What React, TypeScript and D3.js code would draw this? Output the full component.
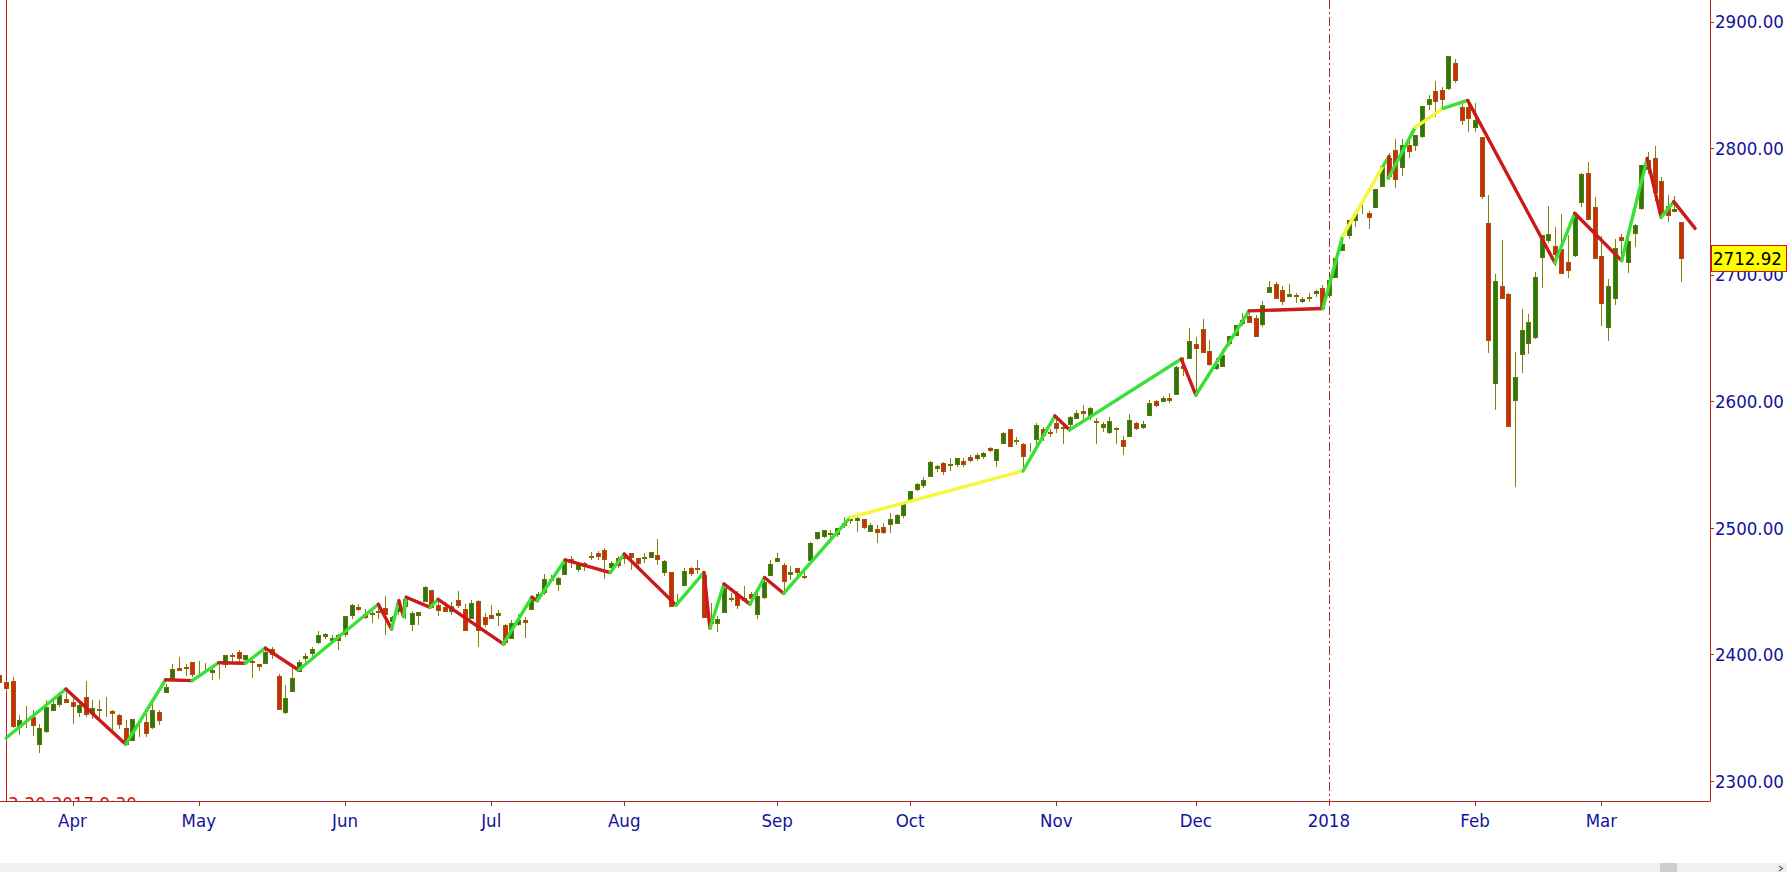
import React, { useEffect, useRef } from 'react';
import * as d3 from 'd3';

// trading days shown, month by month (the feed also has a bar on 2018-01-15)
const monthKeys = ['2017-03', '2017-04', '2017-05', '2017-06', '2017-07', '2017-08', '2017-09',
  '2017-10', '2017-11', '2017-12', '2018-01', '2018-02', '2018-03'];
const monthDays = [
  [17, 20, 21, 22, 23, 24, 27, 28, 29, 30, 31],
  [3, 4, 5, 6, 7, 10, 11, 12, 13, 17, 18, 19, 20, 21, 24, 25, 26, 27, 28],
  [1, 2, 3, 4, 5, 8, 9, 10, 11, 12, 15, 16, 17, 18, 19, 22, 23, 24, 25, 26, 30, 31],
  [1, 2, 5, 6, 7, 8, 9, 12, 13, 14, 15, 16, 19, 20, 21, 22, 23, 26, 27, 28, 29, 30],
  [3, 5, 6, 7, 10, 11, 12, 13, 14, 17, 18, 19, 20, 21, 24, 25, 26, 27, 28, 31],
  [1, 2, 3, 4, 7, 8, 9, 10, 11, 14, 15, 16, 17, 18, 21, 22, 23, 24, 25, 28, 29, 30, 31],
  [1, 5, 6, 7, 8, 11, 12, 13, 14, 15, 18, 19, 20, 21, 22, 25, 26, 27, 28, 29],
  [2, 3, 4, 5, 6, 9, 10, 11, 12, 13, 16, 17, 18, 19, 20, 23, 24, 25, 26, 27, 30, 31],
  [1, 2, 3, 6, 7, 8, 9, 10, 13, 14, 15, 16, 17, 20, 21, 22, 24, 27, 28, 29, 30],
  [1, 4, 5, 6, 7, 8, 11, 12, 13, 14, 15, 18, 19, 20, 21, 22, 26, 27, 28, 29],
  [2, 3, 4, 5, 8, 9, 10, 11, 12, 15, 16, 17, 18, 19, 22, 23, 24, 25, 26, 29, 30, 31],
  [1, 2, 5, 6, 7, 8, 9, 12, 13, 14, 15, 16, 20, 21, 22, 23, 26, 27, 28],
  [1, 2, 5, 6, 7, 8, 9, 12, 13, 14, 15, 16, 19],
];
const monthLabels = ['Apr', 'May', 'Jun', 'Jul', 'Aug', 'Sep', 'Oct', 'Nov', 'Dec', '2018', 'Feb', 'Mar'];

const opens = [
  2383.7, 2378.2, 2379.3, 2343.0, 2346.0, 2350.4, 2329.1, 2339.8, 2356.5, 2361.3, 2364.8,
  2362.3, 2354.8, 2366.6, 2353.8, 2356.6, 2357.2, 2355.0, 2352.1, 2342.0, 2332.6, 2342.5, 2346.8, 2342.7, 2354.7, 2370.3, 2381.5, 2389.0, 2389.7, 2393.7,
  2388.5, 2391.1, 2386.5, 2389.8, 2392.4, 2399.9, 2401.6, 2396.8, 2394.8, 2392.4, 2394.0, 2404.6, 2383.0, 2354.7, 2371.4, 2387.2, 2397.0, 2401.4, 2409.5, 2414.5, 2411.7, 2415.6,
  2415.7, 2431.3, 2437.8, 2431.9, 2432.0, 2434.3, 2436.4, 2425.9, 2434.2, 2443.8, 2424.1, 2431.2, 2442.6, 2450.7, 2439.3, 2437.4, 2434.7, 2443.3, 2436.3, 2428.7, 2442.4, 2429.2,
  2431.4, 2430.8, 2423.4, 2413.5, 2424.5, 2427.4, 2435.8, 2445.0, 2449.2, 2459.5, 2455.9, 2463.9, 2475.6, 2467.4, 2472.0, 2477.9, 2480.0, 2482.8, 2469.1, 2475.9,
  2477.1, 2480.4, 2476.0, 2476.1, 2477.1, 2478.4, 2465.4, 2465.4, 2441.0, 2455.0, 2468.7, 2468.6, 2463.0, 2427.6, 2425.5, 2433.8, 2444.9, 2447.9, 2444.7, 2447.4, 2431.9, 2446.1, 2462.7,
  2474.4, 2470.4, 2463.8, 2468.1, 2462.3, 2474.5, 2491.9, 2493.9, 2494.6, 2495.7, 2502.5, 2506.3, 2506.8, 2507.2, 2497.3, 2499.4, 2501.0, 2503.3, 2503.4, 2510.0,
  2521.2, 2530.3, 2533.5, 2540.9, 2547.4, 2551.4, 2550.0, 2550.6, 2552.9, 2555.7, 2555.6, 2557.2, 2562.9, 2553.4, 2567.6, 2578.1, 2568.7, 2566.5, 2560.1, 2570.3, 2577.8, 2576.0,
  2583.2, 2579.5, 2581.9, 2587.5, 2592.1, 2588.7, 2584.0, 2580.2, 2576.5, 2577.8, 2569.5, 2573.0, 2582.9, 2579.5, 2589.2, 2600.3, 2600.4, 2602.7, 2605.9, 2627.8, 2633.9,
  2645.1, 2657.2, 2639.8, 2626.2, 2628.4, 2646.2, 2652.2, 2661.7, 2667.6, 2665.9, 2660.6, 2685.9, 2692.7, 2688.2, 2683.0, 2684.2, 2679.1, 2682.1, 2686.1, 2689.2,
  2683.7, 2697.9, 2719.3, 2731.3, 2742.7, 2751.2, 2749.0, 2753.0, 2770.2, 2792.0, 2799.0, 2785.0, 2802.4, 2802.6, 2809.2, 2835.1, 2845.4, 2846.2, 2847.5, 2867.2, 2832.7, 2832.4,
  2816.5, 2808.9, 2741.1, 2614.8, 2691.0, 2685.0, 2601.8, 2636.8, 2646.3, 2651.2, 2713.5, 2727.1, 2723.0, 2720.5, 2710.4, 2715.8, 2757.4, 2780.5, 2753.8,
  2715.2, 2658.9, 2681.1, 2730.2, 2710.2, 2732.8, 2752.9, 2790.5, 2792.3, 2774.1, 2754.3, 2750.6, 2741.4,
];
const highs = [
  2385.7, 2379.0, 2381.9, 2351.8, 2358.9, 2356.2, 2344.9, 2363.8, 2363.4, 2370.4, 2370.4,
  2365.9, 2360.5, 2378.8, 2364.2, 2363.8, 2366.4, 2356.0, 2352.7, 2348.3, 2349.1, 2348.4, 2352.6, 2361.4, 2356.2, 2377.0, 2392.5, 2398.2, 2392.1, 2393.7,
  2394.5, 2392.9, 2389.8, 2391.4, 2399.3, 2401.4, 2403.9, 2399.7, 2395.7, 2392.4, 2404.1, 2405.8, 2384.9, 2375.7, 2389.1, 2395.5, 2400.9, 2405.6, 2418.7, 2416.7, 2415.3, 2416.0,
  2430.1, 2440.2, 2439.6, 2436.2, 2435.3, 2439.3, 2446.2, 2430.4, 2441.5, 2443.8, 2434.0, 2433.2, 2453.8, 2450.7, 2442.2, 2441.6, 2441.4, 2450.4, 2440.2, 2443.0, 2442.7, 2432.7,
  2439.2, 2434.9, 2424.3, 2426.9, 2432.0, 2429.3, 2445.8, 2449.3, 2463.5, 2462.8, 2460.9, 2473.8, 2477.6, 2472.5, 2473.1, 2481.2, 2481.7, 2484.0, 2473.5, 2478.0,
  2478.5, 2480.4, 2476.0, 2480.0, 2481.0, 2490.9, 2474.4, 2465.4, 2448.1, 2468.2, 2468.9, 2474.9, 2465.0, 2440.3, 2430.6, 2454.8, 2448.9, 2450.4, 2454.0, 2449.1, 2449.2, 2460.3, 2475.0,
  2480.4, 2472.0, 2469.6, 2468.6, 2467.1, 2489.0, 2496.8, 2498.4, 2498.4, 2500.2, 2508.3, 2507.8, 2508.9, 2507.2, 2503.5, 2502.5, 2503.5, 2511.8, 2510.8, 2519.4,
  2529.2, 2535.1, 2540.5, 2552.5, 2549.4, 2551.8, 2555.2, 2555.2, 2555.3, 2557.7, 2559.5, 2559.7, 2564.1, 2562.4, 2575.4, 2578.3, 2572.2, 2567.4, 2567.1, 2583.0, 2580.0, 2578.3,
  2588.4, 2581.1, 2588.4, 2593.4, 2597.0, 2595.5, 2586.5, 2583.8, 2587.7, 2579.7, 2572.8, 2590.1, 2584.0, 2584.6, 2601.2, 2600.9, 2604.2, 2606.4, 2627.7, 2634.9, 2657.7,
  2650.6, 2665.2, 2648.7, 2634.4, 2641.0, 2651.7, 2660.3, 2669.7, 2671.9, 2668.1, 2679.6, 2695.0, 2694.4, 2691.0, 2692.6, 2685.4, 2682.7, 2685.6, 2687.7, 2692.1,
  2695.9, 2714.4, 2729.3, 2743.5, 2748.5, 2759.1, 2750.8, 2767.6, 2787.9, 2796.0, 2807.5, 2807.0, 2805.8, 2810.3, 2833.0, 2842.2, 2853.0, 2848.6, 2872.9, 2870.6, 2837.8, 2839.3,
  2836.0, 2808.9, 2763.4, 2701.0, 2727.7, 2685.3, 2638.7, 2672.6, 2668.8, 2702.1, 2731.5, 2754.4, 2737.6, 2747.8, 2731.3, 2747.8, 2780.6, 2789.2, 2761.5,
  2730.9, 2696.3, 2728.1, 2732.1, 2730.6, 2740.5, 2786.6, 2797.0, 2801.9, 2777.1, 2763.0, 2761.9, 2741.4,
];
const lows = [
  2377.6, 2369.7, 2341.9, 2336.5, 2342.1, 2335.7, 2322.3, 2337.6, 2356.2, 2358.6, 2362.6,
  2344.7, 2350.7, 2350.5, 2348.9, 2349.6, 2350.7, 2337.3, 2341.2, 2329.0, 2332.5, 2334.5, 2335.0, 2340.9, 2344.5, 2369.2, 2381.2, 2386.8, 2382.7, 2382.4,
  2382.4, 2385.8, 2379.8, 2380.4, 2389.4, 2393.0, 2392.4, 2392.8, 2381.7, 2387.2, 2393.9, 2396.1, 2356.2, 2352.7, 2370.4, 2386.9, 2393.9, 2398.0, 2408.0, 2412.2, 2409.4, 2403.6,
  2413.5, 2427.7, 2434.3, 2428.1, 2424.8, 2427.9, 2415.7, 2420.0, 2431.3, 2428.3, 2418.5, 2422.9, 2441.8, 2436.6, 2430.7, 2433.3, 2431.1, 2437.0, 2419.4, 2428.0, 2405.7, 2421.7,
  2428.7, 2422.1, 2407.7, 2413.5, 2422.3, 2412.8, 2435.8, 2441.7, 2446.7, 2457.2, 2450.3, 2463.9, 2468.4, 2465.1, 2466.3, 2474.9, 2474.9, 2459.9, 2464.7, 2468.5,
  2471.1, 2466.5, 2468.9, 2472.1, 2475.9, 2470.3, 2462.1, 2437.8, 2437.9, 2455.0, 2461.6, 2463.9, 2430.0, 2420.7, 2417.4, 2433.7, 2441.4, 2436.2, 2442.2, 2439.0, 2428.2, 2443.8, 2462.7,
  2473.9, 2446.6, 2459.2, 2460.3, 2459.4, 2474.5, 2490.4, 2492.1, 2491.4, 2493.2, 2499.9, 2503.2, 2496.7, 2499.0, 2496.5, 2488.0, 2495.1, 2495.9, 2502.9, 2508.0,
  2520.4, 2528.9, 2531.8, 2540.0, 2543.8, 2541.6, 2544.9, 2548.0, 2548.3, 2552.1, 2552.6, 2554.7, 2559.7, 2547.9, 2567.6, 2564.3, 2565.6, 2544.0, 2559.8, 2565.9, 2568.3, 2572.2,
  2574.9, 2566.2, 2576.8, 2585.7, 2584.4, 2585.0, 2566.3, 2575.6, 2574.5, 2566.6, 2557.5, 2573.0, 2577.6, 2578.2, 2589.2, 2595.2, 2600.4, 2598.9, 2605.4, 2620.3, 2633.9,
  2605.5, 2639.0, 2627.7, 2624.8, 2628.4, 2644.1, 2651.5, 2659.8, 2662.9, 2652.0, 2659.1, 2685.9, 2680.7, 2676.1, 2682.4, 2678.1, 2678.0, 2678.9, 2682.7, 2673.6,
  2682.4, 2697.8, 2719.1, 2727.9, 2737.6, 2747.9, 2736.1, 2752.8, 2769.6, 2776.0, 2768.6, 2778.4, 2792.6, 2798.1, 2808.1, 2830.6, 2824.8, 2830.9, 2846.2, 2851.5, 2818.3, 2813.0,
  2812.7, 2760.0, 2638.2, 2593.1, 2681.3, 2580.6, 2532.7, 2622.5, 2637.1, 2648.9, 2689.8, 2725.1, 2706.8, 2701.3, 2697.8, 2713.7, 2753.8, 2744.2, 2713.5,
  2659.7, 2647.3, 2675.8, 2711.3, 2701.7, 2722.0, 2751.5, 2779.3, 2758.7, 2744.4, 2741.5, 2750.0, 2694.6,
];
const closes = [
  2378.3, 2373.5, 2344.0, 2348.5, 2345.9, 2344.0, 2341.6, 2358.6, 2361.1, 2368.1, 2362.7,
  2358.8, 2360.2, 2353.0, 2357.5, 2355.5, 2357.2, 2353.8, 2344.9, 2329.0, 2349.0, 2342.2, 2338.2, 2355.8, 2348.7, 2374.2, 2388.6, 2387.5, 2388.8, 2384.2,
  2388.3, 2391.2, 2388.1, 2389.5, 2399.3, 2399.4, 2396.9, 2399.6, 2394.4, 2390.9, 2402.3, 2400.7, 2357.0, 2365.7, 2381.7, 2394.0, 2398.4, 2404.4, 2415.1, 2415.8, 2412.9, 2411.8,
  2430.1, 2439.1, 2436.1, 2429.3, 2433.1, 2433.8, 2431.8, 2429.4, 2440.4, 2437.9, 2432.5, 2433.2, 2453.5, 2437.0, 2435.6, 2434.5, 2438.3, 2439.1, 2419.4, 2440.7, 2419.7, 2423.4,
  2429.0, 2432.5, 2409.8, 2425.2, 2427.4, 2425.5, 2443.3, 2447.8, 2459.3, 2459.1, 2460.6, 2473.8, 2473.5, 2472.5, 2469.9, 2477.1, 2477.8, 2475.4, 2472.1, 2470.3,
  2476.4, 2477.6, 2472.2, 2476.8, 2480.9, 2474.9, 2474.0, 2438.2, 2441.3, 2465.8, 2464.6, 2468.1, 2430.0, 2425.6, 2428.4, 2452.5, 2444.0, 2439.0, 2443.1, 2444.2, 2446.3, 2457.6, 2471.7,
  2476.6, 2457.9, 2465.5, 2465.1, 2461.4, 2488.1, 2496.5, 2498.4, 2495.6, 2500.2, 2503.9, 2506.7, 2508.2, 2500.6, 2502.2, 2496.7, 2496.8, 2507.0, 2510.1, 2519.4,
  2529.1, 2534.6, 2537.7, 2552.1, 2549.3, 2544.7, 2550.6, 2555.2, 2550.9, 2553.2, 2557.6, 2559.4, 2561.3, 2562.1, 2575.2, 2565.0, 2569.1, 2557.2, 2560.4, 2581.1, 2572.8, 2575.3,
  2579.4, 2579.9, 2587.8, 2591.1, 2590.6, 2594.4, 2584.6, 2582.3, 2584.8, 2578.9, 2564.6, 2585.6, 2578.9, 2582.1, 2599.0, 2597.1, 2602.4, 2601.4, 2627.0, 2626.1, 2647.6,
  2642.2, 2639.4, 2629.6, 2629.3, 2637.0, 2651.5, 2660.0, 2664.1, 2662.9, 2652.0, 2675.8, 2690.2, 2681.5, 2679.3, 2684.6, 2683.3, 2680.5, 2682.6, 2687.5, 2673.6,
  2695.8, 2713.1, 2724.0, 2743.2, 2747.7, 2751.3, 2746.0, 2767.6, 2786.2, 2778.0, 2776.4, 2802.6, 2798.0, 2810.3, 2833.0, 2839.1, 2837.5, 2839.3, 2872.9, 2853.5, 2822.4, 2823.8,
  2822.0, 2762.1, 2648.9, 2695.1, 2681.7, 2581.0, 2619.6, 2656.0, 2662.9, 2698.6, 2731.2, 2732.2, 2716.3, 2701.3, 2704.0, 2747.3, 2779.6, 2744.3, 2713.8,
  2677.7, 2691.3, 2720.9, 2728.1, 2726.8, 2739.0, 2786.6, 2783.0, 2765.3, 2749.5, 2747.3, 2752.0, 2712.92,
];

// zigzag indicator: vertex positions (bar index) and levels, plus the colour of each leg
const zzPos = [1, 10, 19, 25, 29, 33, 37, 40, 45, 57, 59, 60.1, 60.8, 61.2, 64.8, 66, 75.8, 80.1, 80.9, 85.1,
  91.9, 94, 101.8, 106, 106.9, 109, 112.9, 115.1, 118, 128, 154, 158.8, 161, 177.8, 180, 188, 199.1, 202.1,
  208.2, 209.06, 208.96, 213, 217.2, 220.9, 234, 237, 244.06, 247.9, 250, 251.9, 255.1];
const zzVal = [2334, 2372.7, 2329, 2380, 2379.3, 2393.5, 2393, 2405, 2387.7, 2439.7, 2420, 2442.5, 2430, 2445.2,
  2437.2, 2443.5, 2408.3, 2445.2, 2442.5, 2474.7, 2464.7, 2479.4, 2439, 2464.8, 2420.7, 2455.7, 2439.7, 2460.8,
  2448.2, 2508.3, 2545, 2588.5, 2577.5, 2633.5, 2605, 2671.5, 2673.4, 2730.8, 2786.2, 2793.5, 2776.4, 2816.5,
  2831.6, 2837.8, 2709.6, 2748.6, 2711.2, 2792, 2745.4, 2757.8, 2736.7];
const zzLegs = 'grgrgrgrgrgrgrgrgrgrgrgrgrgrgygrgrgrgygrgygrgrgrgr'.split('');

const yTicks = [2300, 2400, 2500, 2600, 2700, 2800, 2900];
const lastPrice = 2712.92;
const cursorLabel = '3-20-2017 9:30';

const W = 1787;
const H = 872;
const AXIS_X = 1710;
const AXIS_Y = 801;
const FONT = '"DejaVu Sans Condensed", "DejaVu Sans", Verdana, sans-serif';
const FONT_SIZE = 18.5;
const BLUE = '#12129a';
const FRAME = '#b02a2a';
const LEG_COLORS: Record<string, string> = { g: '#38e038', r: '#cc1a1a', y: '#f6f63a' };

const App: React.FC = () => {
  const svgRef = useRef<SVGSVGElement>(null);

  useEffect(() => {
    if (!svgRef.current) return;
    const svg = d3.select(svgRef.current);
    svg.selectAll('*').remove();

    const dates = monthKeys.flatMap((m, k) => monthDays[k].map(d => `${m}-${String(d).padStart(2, '0')}`));
    const n = dates.length;

    const x = d3.scaleLinear().domain([0, n - 1]).range([-0.6, 1681.1]);
    const y = d3.scaleLinear().domain([2300, 2900]).range([781, 21.7]);

    svg.append('rect').attr('width', W).attr('height', H).attr('fill', '#fff');

    svg.append('defs').append('clipPath').attr('id', 'plotClip')
      .append('rect').attr('x', 0).attr('y', 0).attr('width', AXIS_X).attr('height', AXIS_Y);
    const plot = svg.append('g').attr('clip-path', 'url(#plotClip)');

    // month starts
    let start = 0;
    const monthStarts: number[] = [];
    monthDays.forEach(days => { monthStarts.push(start); start += days.length; });
    const tickIdx = monthStarts.slice(1);
    const yearIdx = tickIdx[monthLabels.indexOf('2018')];

    // cursor line + time label (mostly hidden under the time axis)
    const cx0 = Math.round(x(1)) + 0.5;
    plot.append('line').attr('x1', cx0).attr('x2', cx0).attr('y1', 0).attr('y2', AXIS_Y)
      .attr('stroke', '#c81e1e').attr('stroke-width', 1);
    plot.append('text').attr('x', 8).attr('y', 810).text(cursorLabel)
      .attr('font-family', FONT).attr('font-size', FONT_SIZE).attr('fill', '#d01010');

    // year separator
    const yx = Math.round(x(yearIdx)) + 0.5;
    plot.append('line').attr('x1', yx).attr('x2', yx).attr('y1', 0).attr('y2', AXIS_Y)
      .attr('stroke', '#b02a2a').attr('stroke-width', 1).attr('stroke-dasharray', '9,3,2,3');

    // candles
    const bars = plot.append('g').selectAll('g').data(d3.range(n)).join('g');
    bars.append('line')
      .attr('x1', i => Math.round(x(i)) + 0.5).attr('x2', i => Math.round(x(i)) + 0.5)
      .attr('y1', i => y(highs[i])).attr('y2', i => y(lows[i]))
      .attr('stroke', '#86800a').attr('stroke-width', 1).attr('shape-rendering', 'crispEdges');
    bars.append('rect')
      .attr('x', i => Math.round(x(i)) - 1.5)
      .attr('y', i => Math.round(y(Math.max(opens[i], closes[i]))) + 0.5)
      .attr('width', 4)
      .attr('height', i => Math.max(0, Math.round(Math.abs(y(opens[i]) - y(closes[i])))))
      .attr('fill', i => (closes[i] >= opens[i] ? '#1f7d14' : '#d22a0c'))
      .attr('stroke', i => (closes[i] >= opens[i] ? '#6b7400' : '#9a5a08'))
      .attr('stroke-width', 1).attr('shape-rendering', 'crispEdges');

    // zigzag legs
    const legs = d3.range(zzLegs.length);
    plot.append('g').selectAll('line').data(legs).join('line')
      .attr('x1', k => x(zzPos[k])).attr('y1', k => y(zzVal[k]))
      .attr('x2', k => x(zzPos[k + 1])).attr('y2', k => y(zzVal[k + 1]))
      .attr('stroke', k => LEG_COLORS[zzLegs[k]])
      .attr('stroke-width', 3.4).attr('stroke-linecap', 'round');

    // frame
    svg.append('line').attr('x1', AXIS_X + 0.5).attr('x2', AXIS_X + 0.5).attr('y1', 0).attr('y2', AXIS_Y + 0.5)
      .attr('stroke', FRAME).attr('stroke-width', 1);
    svg.append('line').attr('x1', 0).attr('x2', AXIS_X + 0.5).attr('y1', AXIS_Y + 0.5).attr('y2', AXIS_Y + 0.5)
      .attr('stroke', FRAME).attr('stroke-width', 1);

    // price axis
    const yAxis = svg.append('g');
    yTicks.forEach(v => {
      const ty = Math.round(y(v)) + 0.5;
      yAxis.append('line').attr('x1', AXIS_X).attr('x2', AXIS_X + 4).attr('y1', ty).attr('y2', ty)
        .attr('stroke', FRAME);
      yAxis.append('text').attr('x', AXIS_X + 5).attr('y', y(v)).attr('dy', '0.36em')
        .attr('font-family', FONT).attr('font-size', FONT_SIZE).attr('fill', BLUE)
        .text(d3.format('.2f')(v));
    });

    // time axis
    const xAxis = svg.append('g');
    tickIdx.forEach((idx, k) => {
      const tx = Math.round(x(idx)) + 0.5;
      xAxis.append('line').attr('x1', tx).attr('x2', tx).attr('y1', AXIS_Y).attr('y2', AXIS_Y + 5)
        .attr('stroke', FRAME);
      xAxis.append('text').attr('x', x(idx)).attr('y', 827).attr('text-anchor', 'middle')
        .attr('font-family', FONT).attr('font-size', FONT_SIZE).attr('fill', BLUE)
        .text(monthLabels[k]);
    });

    // last price marker
    const py = y(lastPrice);
    svg.append('rect').attr('x', AXIS_X + 1.5).attr('y', Math.round(py - 13) + 0.5)
      .attr('width', W - AXIS_X - 2).attr('height', 26)
      .attr('fill', '#ffff00').attr('stroke', '#e01010').attr('stroke-width', 1);
    svg.append('text').attr('x', AXIS_X + 3).attr('y', py).attr('dy', '0.36em')
      .attr('font-family', FONT).attr('font-size', FONT_SIZE).attr('fill', '#000')
      .text(d3.format('.2f')(lastPrice));

    // scrollbar strip
    svg.append('rect').attr('x', 0).attr('y', 863).attr('width', W).attr('height', 9).attr('fill', '#f0f0f0');
    svg.append('rect').attr('x', 1660).attr('y', 863).attr('width', 17).attr('height', 9).attr('fill', '#cdcdcd');
    svg.append('path').attr('d', 'M1779,866 L1782.5,868.5 L1779,871')
      .attr('fill', 'none').attr('stroke', '#606060').attr('stroke-width', 1.2);
  }, []);

  return (
    <div style={{ position: 'fixed', left: 0, top: 0, width: W, height: H, background: '#fff' }}>
      <svg ref={svgRef} width={W} height={H} style={{ display: 'block' }} />
    </div>
  );
};

export default App;
